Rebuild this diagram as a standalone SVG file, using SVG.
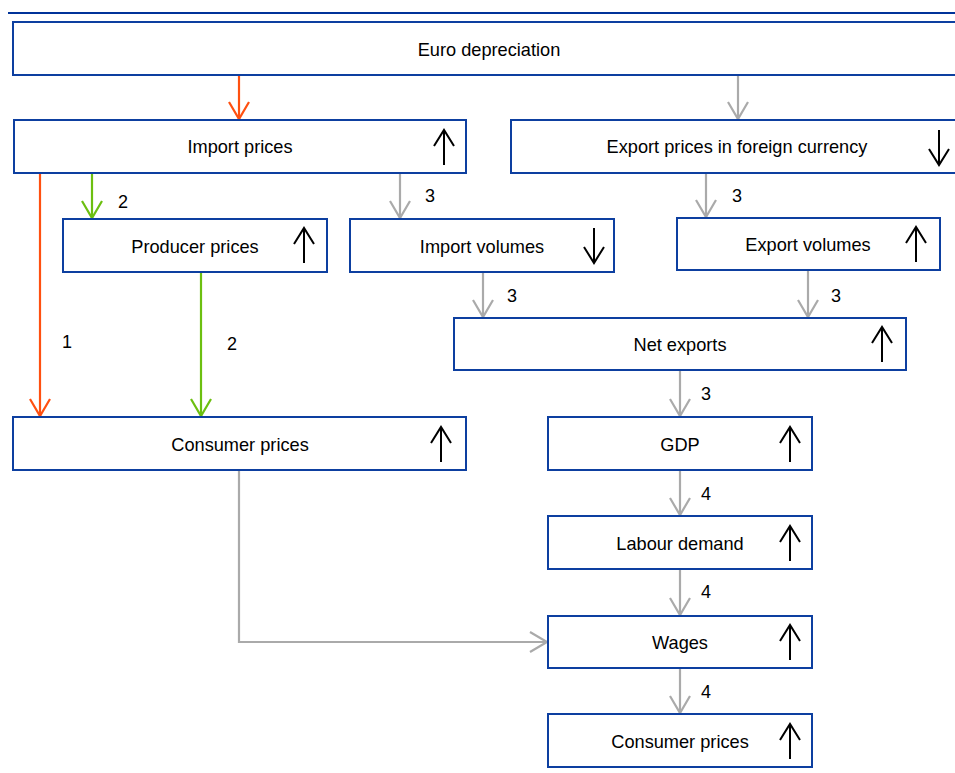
<svg xmlns="http://www.w3.org/2000/svg" width="955" height="773" viewBox="0 0 955 773">
<style>
.box{fill:#fff;stroke:#0d3fa0;stroke-width:2}
.t{font-family:"Liberation Sans",Arial,sans-serif;font-size:18.2px;fill:#000;text-anchor:middle}
.n{font-family:"Liberation Sans",Arial,sans-serif;font-size:18px;fill:#000}
.ind{fill:none;stroke:#000;stroke-width:2}
.c{fill:none;stroke-width:2.2}
.red{stroke:#ff5010}
.grn{stroke:#6cbf10}
.gry{stroke:#aaaaaa}
</style>
<defs>
<marker id="ar" markerUnits="userSpaceOnUse" markerWidth="40" markerHeight="40" viewBox="-20 -20 40 40" refX="0" refY="0" orient="auto" overflow="visible"><path d="M-17,-10 L0,0 L-17,10" fill="none" stroke="#ff5010" stroke-width="2.2"/></marker>
<marker id="ag" markerUnits="userSpaceOnUse" markerWidth="40" markerHeight="40" viewBox="-20 -20 40 40" refX="0" refY="0" orient="auto" overflow="visible"><path d="M-17,-10 L0,0 L-17,10" fill="none" stroke="#6cbf10" stroke-width="2.2"/></marker>
<marker id="ay" markerUnits="userSpaceOnUse" markerWidth="40" markerHeight="40" viewBox="-20 -20 40 40" refX="0" refY="0" orient="auto" overflow="visible"><path d="M-17,-10 L0,0 L-17,10" fill="none" stroke="#aaaaaa" stroke-width="2.2"/></marker>
</defs>
<rect width="955" height="773" fill="#fff"/>
<line x1="8" y1="13" x2="955" y2="13" stroke="#003399" stroke-width="2.2"/>

<g id="connectors">
<path class="c red" d="M239,75 V119" marker-end="url(#ar)"/>
<path class="c gry" d="M738,75 V119" marker-end="url(#ay)"/>
<path class="c red" d="M40,173 V416" marker-end="url(#ar)"/>
<path class="c grn" d="M92,173 V218" marker-end="url(#ag)"/>
<path class="c gry" d="M400,173 V218" marker-end="url(#ay)"/>
<path class="c gry" d="M706,173 V217" marker-end="url(#ay)"/>
<path class="c grn" d="M201,272 V416" marker-end="url(#ag)"/>
<path class="c gry" d="M483,272 V317" marker-end="url(#ay)"/>
<path class="c gry" d="M808,270 V317" marker-end="url(#ay)"/>
<path class="c gry" d="M680,370 V416" marker-end="url(#ay)"/>
<path class="c gry" d="M680,470 V515" marker-end="url(#ay)"/>
<path class="c gry" d="M680,569 V615" marker-end="url(#ay)"/>
<path class="c gry" d="M680,668 V713" marker-end="url(#ay)"/>
<path class="c gry" d="M239,470 V642 H547" marker-end="url(#ay)"/>
<text class="n" x="118" y="208">2</text>
<text class="n" x="425" y="202">3</text>
<text class="n" x="732" y="202">3</text>
<text class="n" x="62" y="348">1</text>
<text class="n" x="227" y="350">2</text>
<text class="n" x="507" y="302">3</text>
<text class="n" x="831" y="302">3</text>
<text class="n" x="701" y="400">3</text>
<text class="n" x="701" y="500">4</text>
<text class="n" x="701" y="598">4</text>
<text class="n" x="701" y="698">4</text>
</g>

<g id="euro">
<rect class="box" x="13" y="22" width="952" height="53"/>
<text class="t" x="489" y="55.5">Euro depreciation</text>
</g>
<g id="import-prices">
<rect class="box" x="14" y="120" width="452" height="53"/>
<text class="t" x="240" y="153">Import prices</text>
<path class="ind" d="M444,165 V130 M434,146 L444,130 L454,146"/>
</g>
<g id="export-prices">
<rect class="box" x="511" y="120" width="454" height="53"/>
<text class="t" x="737" y="153">Export prices in foreign currency</text>
<path class="ind" d="M939,130 V165 M929,149 L939,165 L949,149"/>
</g>
<g id="producer-prices">
<rect class="box" x="63" y="219" width="264" height="53"/>
<text class="t" x="195" y="252.5">Producer prices</text>
<path class="ind" d="M304,263 V228 M294,244 L304,228 L314,244"/>
</g>
<g id="import-volumes">
<rect class="box" x="350" y="219" width="264" height="53"/>
<text class="t" x="482" y="252.5">Import volumes</text>
<path class="ind" d="M594,228 V263 M584,247 L594,263 L604,247"/>
</g>
<g id="export-volumes">
<rect class="box" x="677" y="218" width="263" height="52"/>
<text class="t" x="808" y="250.5">Export volumes</text>
<path class="ind" d="M916,262 V227 M906,243 L916,227 L926,243"/>
</g>
<g id="net-exports">
<rect class="box" x="454" y="318" width="452" height="52"/>
<text class="t" x="680" y="351">Net exports</text>
<path class="ind" d="M882,362 V327 M872,343 L882,327 L892,343"/>
</g>
<g id="consumer-prices-1">
<rect class="box" x="13" y="417" width="453" height="53"/>
<text class="t" x="240" y="450.5">Consumer prices</text>
<path class="ind" d="M441,462 V427 M431,443 L441,427 L451,443"/>
</g>
<g id="gdp">
<rect class="box" x="548" y="417" width="264" height="53"/>
<text class="t" x="680" y="450.5">GDP</text>
<path class="ind" d="M790,462 V427 M780,443 L790,427 L800,443"/>
</g>
<g id="labour-demand">
<rect class="box" x="548" y="516" width="264" height="53"/>
<text class="t" x="680" y="549.5">Labour demand</text>
<path class="ind" d="M790,561 V526 M780,542 L790,526 L800,542"/>
</g>
<g id="wages">
<rect class="box" x="548" y="616" width="264" height="52"/>
<text class="t" x="680" y="649">Wages</text>
<path class="ind" d="M790,660 V625 M780,641 L790,625 L800,641"/>
</g>
<g id="consumer-prices-2">
<rect class="box" x="548" y="714" width="264" height="53"/>
<text class="t" x="680" y="747.5">Consumer prices</text>
<path class="ind" d="M790,759 V724 M780,740 L790,724 L800,740"/>
</g>
</svg>
